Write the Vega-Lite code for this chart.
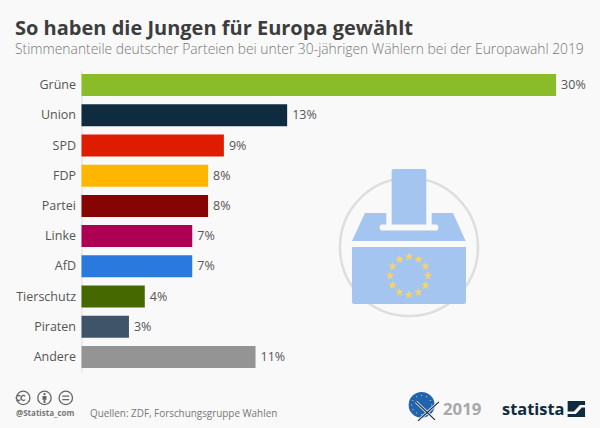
{
"$schema":"https://vega.github.io/schema/vega-lite/v6.json",
"width":518.5,"height":358,
"autosize":{"type":"none"},
"padding":{"left":81.5,"top":70,"right":0,"bottom":0},
"background":"#f9f9f9",
"config":{"view":{"stroke":null}},
"title":{"text":"So haben die Jungen für Europa gewählt","subtitle":"Stimmenanteile deutscher Parteien bei unter 30-jährigen Wählern bei der Europawahl 2019","anchor":"start","frame":"group","dx":-66.5,"offset":13,"font":"Open Sans","fontSize":20,"fontWeight":"bold","color":"#3d3d3d","subtitleFont":"Open Sans","subtitleFontSize":13.85,"subtitleFontWeight":300,"subtitleColor":"#777777","subtitlePadding":4},
"datasets":{"parteien":[
{"partei":"Grüne","anteil":30,"label":"30%"},
{"partei":"Union","anteil":13,"label":"13%"},
{"partei":"SPD","anteil":9,"label":"9%"},
{"partei":"FDP","anteil":8,"label":"8%"},
{"partei":"Partei","anteil":8,"label":"8%"},
{"partei":"Linke","anteil":7,"label":"7%"},
{"partei":"AfD","anteil":7,"label":"7%"},
{"partei":"Tierschutz","anteil":4,"label":"4%"},
{"partei":"Piraten","anteil":3,"label":"3%"},
{"partei":"Andere","anteil":11,"label":"11%"}],"eins":[{"n":1}]},
"data":{"name":"eins"},
"layer":[
{"data":{"name":"parteien"},"mark":{"type":"bar"},
"encoding":{
"y":{"field":"partei","type":"nominal","title":null,
"scale":{"domain":["Grüne","Union","SPD","FDP","Partei","Linke","AfD","Tierschutz","Piraten","Andere"],"range":[0,302],"paddingInner":0.27,"paddingOuter":0.135},
"axis":{"ticks":false,"domainColor":"#dddddd","domainWidth":1,"labelPadding":6,"labelFont":"Open Sans","labelFontSize":12.5,"labelColor":"#555555","title":null,"grid":false}},
"x":{"field":"anteil","type":"quantitative","title":null,"scale":{"domain":[0,32.775],"nice":false,"zero":true},"axis":null},
"color":{"field":"partei","type":"nominal","legend":null,"scale":{"domain":["Grüne","Union","SPD","FDP","Partei","Linke","AfD","Tierschutz","Piraten","Andere"],"range":["#8abb28","#0f2b40","#df1c00","#ffb600","#860404","#ad0055","#2a79df","#456900","#3f5468","#949494"]}}}},
{"data":{"name":"parteien"},"mark":{"type":"text","align":"left","dx":5,"font":"Open Sans","fontSize":12.5,"color":"#555555"},
"encoding":{"text":{"field":"label","type":"nominal"},"x":{"field":"anteil","type":"quantitative"},"y":{"field":"partei","type":"nominal"}}},
{"mark":{"type":"point","filled":false,"size":19044,"stroke":"#dedede","strokeWidth":2.5,"opacity":1,"shape":"circle","yOffset":11},
"encoding":{"x":{"datum":20.7},"y":{"datum":"Linke"}}},
{"mark":{"type":"point","filled":true,"size":4,"color":"#a4c5f0","opacity":1,"yOffset":11,
"shape":"M-17.3,-76a2,2 0 0 1 2,-2H15.3a2,2 0 0 1 2,2V-22.7H-17.3Z M-44,-34L-22.7,-34L-22.7,-22.7L-28,-22.7Q-31,-19.7 -28,-16.7L28,-16.7Q31,-19.7 28,-22.7L22.7,-22.7L22.7,-34L44,-34L56.7,-6L-57,-6Z M-57,0H57V55a2,2 0 0 1 -2,2H-55a2,2 0 0 1 -2,-2Z"},
"encoding":{"x":{"datum":20.7},"y":{"datum":"Linke"}}},
{"mark":{"type":"point","filled":true,"size":4,"color":"#f7d26e","opacity":1,"yOffset":11,
"shape":"M0,5.1l1.1 3.1 3.2 .05 -2.6 2 .95 3.2 -2.65 -1.9 -2.65 1.9 .95 -3.2 -2.6 -2 3.2 -.05z M9.5,7.6l1.1 3.1 3.2 .05 -2.6 2 .95 3.2 -2.65 -1.9 -2.65 1.9 .95 -3.2 -2.6 -2 3.2 -.05z M16.5,14.6l1.1 3.1 3.2 .05 -2.6 2 .95 3.2 -2.65 -1.9 -2.65 1.9 .95 -3.2 -2.6 -2 3.2 -.05z M19,24.1l1.1 3.1 3.2 .05 -2.6 2 .95 3.2 -2.65 -1.9 -2.65 1.9 .95 -3.2 -2.6 -2 3.2 -.05z M16.5,33.6l1.1 3.1 3.2 .05 -2.6 2 .95 3.2 -2.65 -1.9 -2.65 1.9 .95 -3.2 -2.6 -2 3.2 -.05z M9.5,40.6l1.1 3.1 3.2 .05 -2.6 2 .95 3.2 -2.65 -1.9 -2.65 1.9 .95 -3.2 -2.6 -2 3.2 -.05z M0,43.1l1.1 3.1 3.2 .05 -2.6 2 .95 3.2 -2.65 -1.9 -2.65 1.9 .95 -3.2 -2.6 -2 3.2 -.05z M-9.5,40.6l1.1 3.1 3.2 .05 -2.6 2 .95 3.2 -2.65 -1.9 -2.65 1.9 .95 -3.2 -2.6 -2 3.2 -.05z M-16.5,33.6l1.1 3.1 3.2 .05 -2.6 2 .95 3.2 -2.65 -1.9 -2.65 1.9 .95 -3.2 -2.6 -2 3.2 -.05z M-19,24.1l1.1 3.1 3.2 .05 -2.6 2 .95 3.2 -2.65 -1.9 -2.65 1.9 .95 -3.2 -2.6 -2 3.2 -.05z M-16.5,14.6l1.1 3.1 3.2 .05 -2.6 2 .95 3.2 -2.65 -1.9 -2.65 1.9 .95 -3.2 -2.6 -2 3.2 -.05z M-9.5,7.6l1.1 3.1 3.2 .05 -2.6 2 .95 3.2 -2.65 -1.9 -2.65 1.9 .95 -3.2 -2.6 -2 3.2 -.05z"},
"encoding":{"x":{"datum":20.7},"y":{"datum":"Linke"}}},
{"mark":{"type":"point","filled":false,"size":4,"stroke":"#666666","strokeWidth":1.3,"opacity":1,"yOffset":41,
"shape":"M-28,0a6.7,6.7 0 1 0 13.4,0a6.7,6.7 0 1 0 -13.4,0 M-6.7,0a6.7,6.7 0 1 0 13.4,0a6.7,6.7 0 1 0 -13.4,0 M14.6,0a6.7,6.7 0 1 0 13.4,0a6.7,6.7 0 1 0 -13.4,0 M17.8,-1.7H24.8 M17.8,1.7H24.8 M-24,-1.7a2.4,2.4 0 1 0 0,3.4 M-19.3,-1.7a2.4,2.4 0 1 0 0,3.4"},
"encoding":{"x":{"datum":-2.34},"y":{"datum":"Andere"}}},
{"mark":{"type":"point","filled":true,"size":4,"color":"#666666","opacity":1,"yOffset":41,
"shape":"M-2,-2H2V1.8H.9V5H-.9V1.8H-2Z M-1.2,-3.8a1.2,1.2 0 1 0 2.4,0a1.2,1.2 0 1 0 -2.4,0Z"},
"encoding":{"x":{"datum":-2.34},"y":{"datum":"Andere"}}},
{"mark":{"type":"text","text":"@Statista_com","align":"left","baseline":"middle","font":"Open Sans","fontSize":8,"fontWeight":"bold","color":"#777777","yOffset":57},
"encoding":{"x":{"datum":-4.14},"y":{"datum":"Andere"}}},
{"mark":{"type":"text","text":"Quellen: ZDF, Forschungsgruppe Wahlen","align":"left","baseline":"middle","font":"Open Sans","fontSize":9.9,"color":"#777777","yOffset":57},
"encoding":{"x":{"datum":0.54},"y":{"datum":"Andere"}}},
{"mark":{"type":"point","filled":true,"size":676,"color":"#2263ad","opacity":1,"shape":"circle","yOffset":48},
"encoding":{"x":{"datum":21.5},"y":{"datum":"Andere"}}},
{"mark":{"type":"point","filled":true,"size":4,"color":"#c9d9a8","opacity":1,"yOffset":48,
"shape":"M-.5,-10h1v1h-1z M4.5,-8.7h1v1h-1z M8.2,-5h1v1h-1z M9.5,-.5h1v1h-1z M-.5,9h1v1h-1z M-5.5,-8.7h1v1h-1z M-9.2,-5h1v1h-1z M-10.5,-.5h1v1h-1z M-9.2,4h1v1h-1z M-5.5,7.7h1v1h-1z"},
"encoding":{"x":{"datum":21.5},"y":{"datum":"Andere"}}},
{"mark":{"type":"point","filled":false,"size":4,"stroke":"#f9f9f9","strokeWidth":3,"opacity":0.8,"yOffset":54,
"shape":"M-12,-9L7,9 M11,-9L-10,10"},
"encoding":{"x":{"datum":21.9},"y":{"datum":"Andere"}}},
{"mark":{"type":"point","filled":false,"size":4,"stroke":"#1c2b3a","strokeWidth":1.2,"opacity":1,"yOffset":54,
"shape":"M-12,-9L7,9 M11,-9L-10,10"},
"encoding":{"x":{"datum":21.9},"y":{"datum":"Andere"}}},
{"mark":{"type":"text","text":"2019","align":"left","baseline":"middle","font":"Open Sans","fontSize":16.8,"fontWeight":"bold","color":"#a8a8a8","yOffset":53},
"encoding":{"x":{"datum":22.85},"y":{"datum":"Andere"}}},
{"mark":{"type":"text","text":"statista","align":"left","baseline":"middle","font":"Open Sans","fontSize":16.4,"fontWeight":"bold","color":"#0f2b40","yOffset":53},
"encoding":{"x":{"datum":26.58},"y":{"datum":"Andere"}}},
{"mark":{"type":"point","filled":true,"size":4,"color":"#0f2b40","opacity":1,"yOffset":52,
"shape":"M-8.7,-8H8.7V-4H3.5L-2.5,2.5H-8.7Z M-8.7,8H8.7V-1.5H5.5L-.5,5H-8.7Z"},
"encoding":{"x":{"datum":31.28},"y":{"datum":"Andere"}}}
]
}
